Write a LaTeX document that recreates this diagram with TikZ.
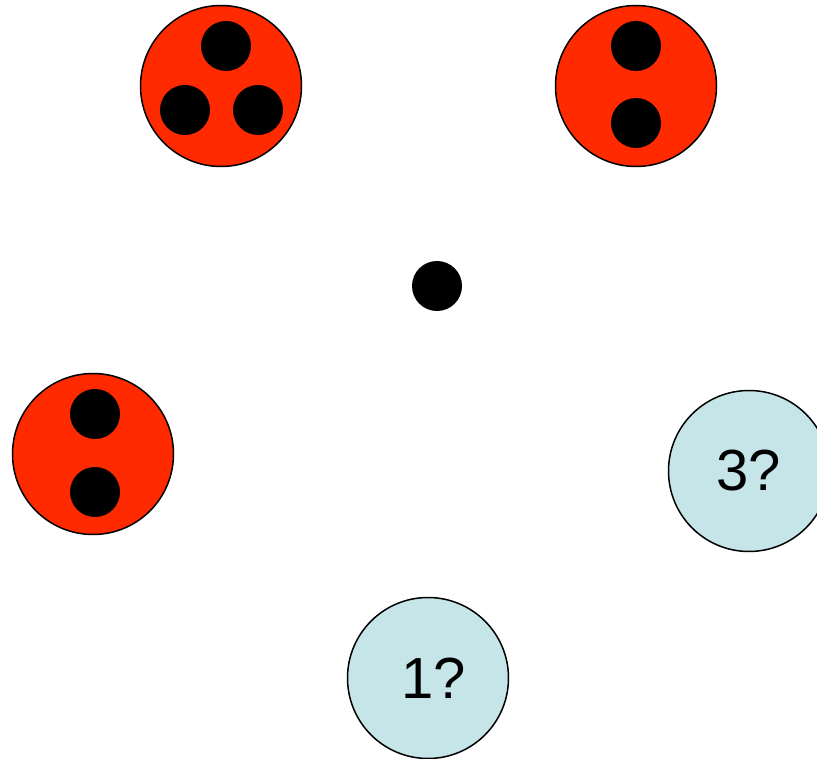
\documentclass[tikz,border=0pt]{standalone}
\usepackage{fontspec}
\setmainfont{Liberation Sans}
\definecolor{discred}{RGB}{255,42,0}
\definecolor{discblue}{RGB}{197,229,232}
\begin{document}
\begin{tikzpicture}[x=1pt,y=-1pt,
  disc/.style={circle,draw=black,line width=1.5pt,minimum size=161pt,inner sep=0pt},
  reddisc/.style={disc,fill=discred},
  bluedisc/.style={disc,fill=discblue,font=\fontsize{58}{60}\selectfont},
  dot/.style={circle,fill=black,minimum size=50pt,inner sep=0pt}]
  \useasboundingbox (0,0) rectangle (817,759);
  % three-dot disc
  \node[reddisc] (a) at (221,86) {};
  \node[dot] (a1) at (226,46) {};
  \node[dot] (a2) at (185,110) {};
  \node[dot] (a3) at (258,110) {};
  % two-dot disc, top right
  \node[reddisc] (b) at (636,86) {};
  \node[dot] (b1) at (636,46) {};
  \node[dot] (b2) at (636,123) {};
  % two-dot disc, left
  \node[reddisc] (c) at (93,454) {};
  \node[dot] (c1) at (95,414) {};
  \node[dot] (c2) at (95,492) {};
  % centre dot
  \node[dot] (m) at (437,286) {};
  % question discs
  \node[bluedisc] (q3) at (749,471) {3?};
  \node[bluedisc] (q1) at (428,678) {\hspace{12pt}1?};
\end{tikzpicture}
\end{document}
